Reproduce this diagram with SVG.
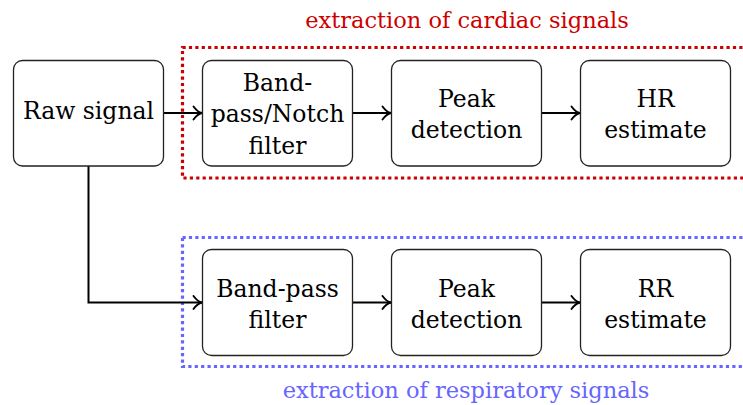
<svg xmlns="http://www.w3.org/2000/svg" width="743" height="405" viewBox="0 0 743 405">
<defs>
<style>
.box{fill:#fff;stroke:#222;stroke-width:1.3}
.t{font-family:"DejaVu Serif","Liberation Serif",serif;font-size:23.5px;fill:#000;text-anchor:middle}
.lbl{font-family:"DejaVu Serif","Liberation Serif",serif;font-size:22.5px;text-anchor:middle}
.conn{fill:none;stroke:#000;stroke-width:2}
.grp{fill:none;stroke-width:3.2;stroke-dasharray:3.2 3.2}
</style>
<marker id="arr" viewBox="0 0 12 16" refX="10.5" refY="8" markerWidth="12" markerHeight="16" markerUnits="userSpaceOnUse" orient="auto">
<path d="M2,1.5 Q6,7 10.5,8 Q6,9 2,14.5" fill="none" stroke="#000" stroke-width="1.9" stroke-linecap="round"/>
</marker>
</defs>
<g id="group-cardiac">
<rect class="grp" x="182.5" y="47.5" width="580" height="130.5" stroke="#cc0000"/>
<text class="lbl" x="467" y="28" fill="#cc0000">extraction of cardiac signals</text>
</g>
<g id="group-respiratory">
<rect class="grp" x="182.5" y="237.5" width="580" height="129" stroke="#6666ff"/>
<text class="lbl" x="466" y="398" fill="#6666ff">extraction of respiratory signals</text>
</g>
<g id="connectors">
<path class="conn" d="M164,113 H202" marker-end="url(#arr)"/>
<path class="conn" d="M353,113 H391" marker-end="url(#arr)"/>
<path class="conn" d="M542,113 H580" marker-end="url(#arr)"/>
<path class="conn" d="M88.5,166 V302.5 H202" marker-end="url(#arr)"/>
<path class="conn" d="M353,302.5 H391" marker-end="url(#arr)"/>
<path class="conn" d="M542,302.5 H580" marker-end="url(#arr)"/>
</g>
<g id="raw">
<rect class="box" x="13.5" y="60.5" width="150" height="105.5" rx="9"/>
<text class="t" x="88.5" y="119">Raw signal</text>
</g>
<g id="bp-notch">
<rect class="box" x="202.5" y="60.5" width="150" height="105.5" rx="9"/>
<text class="t" x="277.5" y="91">Band-</text>
<text class="t" x="277.5" y="122">pass/Notch</text>
<text class="t" x="277.5" y="154">filter</text>
</g>
<g id="peak1">
<rect class="box" x="391.5" y="60.5" width="150" height="105.5" rx="9"/>
<text class="t" x="466.5" y="107">Peak</text>
<text class="t" x="466.5" y="138">detection</text>
</g>
<g id="hr">
<rect class="box" x="580.5" y="60.5" width="150" height="105.5" rx="9"/>
<text class="t" x="655.5" y="107">HR</text>
<text class="t" x="655.5" y="138">estimate</text>
</g>
<g id="bp">
<rect class="box" x="202.5" y="249.5" width="150" height="106" rx="9"/>
<text class="t" x="277.5" y="297">Band-pass</text>
<text class="t" x="277.5" y="328">filter</text>
</g>
<g id="peak2">
<rect class="box" x="391.5" y="249.5" width="150" height="106" rx="9"/>
<text class="t" x="466.5" y="297">Peak</text>
<text class="t" x="466.5" y="328">detection</text>
</g>
<g id="rr">
<rect class="box" x="580.5" y="249.5" width="150" height="106" rx="9"/>
<text class="t" x="655.5" y="297">RR</text>
<text class="t" x="655.5" y="328">estimate</text>
</g>
</svg>
